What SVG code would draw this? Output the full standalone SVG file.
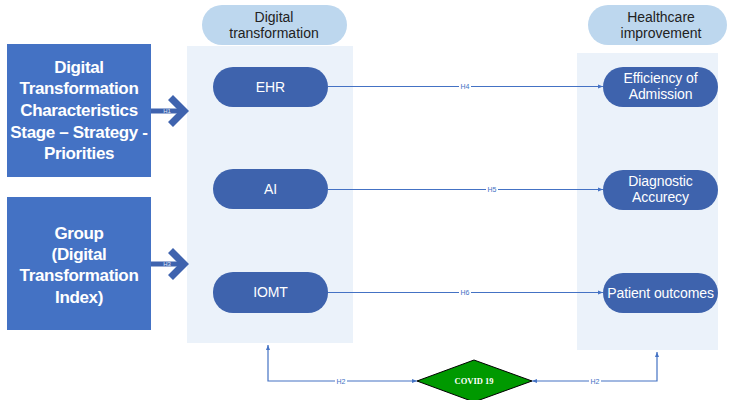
<svg xmlns="http://www.w3.org/2000/svg" width="731" height="400" viewBox="0 0 731 400">
<defs>
<style>
.box{fill:#4472C4}
.btxt{font-family:"Liberation Sans",Arial,sans-serif;font-weight:bold;font-size:17px;fill:#fff;text-anchor:middle;letter-spacing:-0.35px}
.panel{fill:#EBF2FA}
.pill{fill:#BDD7EE}
.htxt{font-family:"Liberation Sans",Arial,sans-serif;font-size:14px;fill:#222;text-anchor:middle}
.node{fill:#3E63AD}
.ntxt{font-family:"Liberation Sans",Arial,sans-serif;font-size:14px;fill:#fff;text-anchor:middle;letter-spacing:-0.1px}
.conn{stroke:#4472C4;stroke-width:1.2;fill:none}
.lbl{font-family:"Liberation Sans",Arial,sans-serif;font-size:7px;fill:#4472C4;text-anchor:middle}
.lblbg{fill:#fff}
.thick{fill:#3F63AE}
.tlbl{font-family:"Liberation Sans",Arial,sans-serif;font-size:6px;fill:#dfe7f5;text-anchor:middle}
</style>
<marker id="ah" viewBox="0 0 10 10" refX="10" refY="5" markerWidth="5" markerHeight="5" orient="auto-start-reverse" markerUnits="userSpaceOnUse">
<path d="M0,1 L10,5 L0,9 z" fill="#4472C4"/>
</marker>
</defs>

<g id="panel-digital">
<rect class="panel" x="187" y="46" width="166" height="297"/>
<rect class="pill" x="202" y="5" width="145" height="40" rx="20"/>
<text class="htxt" x="274" y="22">Digital</text>
<text class="htxt" x="274" y="38">transformation</text>
</g>

<g id="panel-health">
<rect class="panel" x="577" y="53" width="141" height="297"/>
<rect class="pill" x="588" y="5" width="139" height="40" rx="20"/>
<text class="htxt" x="661" y="22">Healthcare</text>
<text class="htxt" x="661" y="38">improvement</text>
</g>

<g id="box-characteristics">
<rect class="box" x="7" y="44" width="144" height="133"/>
<text class="btxt" x="79" y="73">Digital</text>
<text class="btxt" x="79" y="94">Transformation</text>
<text class="btxt" x="79" y="116">Characteristics</text>
<text class="btxt" x="79" y="138">Stage – Strategy -</text>
<text class="btxt" x="79" y="159">Priorities</text>
</g>

<g id="box-group">
<rect class="box" x="7" y="197" width="144" height="133"/>
<text class="btxt" x="79" y="239">Group</text>
<text class="btxt" x="79" y="260">(Digital</text>
<text class="btxt" x="79" y="281">Transformation</text>
<text class="btxt" x="79" y="303">Index)</text>
</g>

<g id="node-ehr">
<rect class="node" x="213" y="67" width="115" height="40" rx="20"/>
<text class="ntxt" x="270.5" y="92">EHR</text>
</g>
<g id="node-ai">
<rect class="node" x="213" y="169" width="115" height="40" rx="20"/>
<text class="ntxt" x="270.5" y="194">AI</text>
</g>
<g id="node-iomt">
<rect class="node" x="213" y="272" width="115" height="41" rx="20"/>
<text class="ntxt" x="270.5" y="297">IOMT</text>
</g>

<g id="node-efficiency">
<rect class="node" x="603" y="67" width="115" height="40" rx="20"/>
<text class="ntxt" x="660.5" y="83">Efficiency of</text>
<text class="ntxt" x="660.5" y="99">Admission</text>
</g>
<g id="node-diagnostic">
<rect class="node" x="603" y="170" width="115" height="40" rx="20"/>
<text class="ntxt" x="660.5" y="186">Diagnostic</text>
<text class="ntxt" x="660.5" y="202">Accurecy</text>
</g>
<g id="node-patient">
<rect class="node" x="603" y="273" width="115" height="40" rx="20"/>
<text class="ntxt" x="660.5" y="298">Patient outcomes</text>
</g>

<g id="node-covid">
<polygon points="417,381 474,360 532,381 474,402" fill="#009900" stroke="#000" stroke-width="1"/>
<text x="474" y="384" font-family="'Liberation Serif','Times New Roman',serif" font-weight="bold" font-size="8.5px" fill="#fff" text-anchor="middle">COVID 19</text>
</g>

<g id="connectors">
<rect class="thick" x="151" y="108.5" width="29" height="5"/>
<polygon class="thick" points="168,100 173,95 189,111 173,127 168,122 179,111"/>
<text class="tlbl" x="167" y="113">H1</text>
<rect class="thick" x="151" y="261.5" width="29" height="5"/>
<polygon class="thick" points="168,253 173,248 189,264 173,280 168,275 179,264"/>
<text class="tlbl" x="167" y="266">H3</text>

<line class="conn" x1="328" y1="86.5" x2="603" y2="86.5" marker-end="url(#ah)"/>
<rect class="lblbg" x="459" y="83" width="12" height="7"/>
<text class="lbl" x="465" y="89">H4</text>

<line class="conn" x1="328" y1="189.5" x2="603" y2="189.5" marker-end="url(#ah)"/>
<rect class="lblbg" x="486" y="186" width="12" height="7"/>
<text class="lbl" x="492" y="192">H5</text>

<line class="conn" x1="328" y1="292.5" x2="603" y2="292.5" marker-end="url(#ah)"/>
<rect class="lblbg" x="459" y="289" width="12" height="7"/>
<text class="lbl" x="465" y="295">H6</text>

<polyline class="conn" points="268,345 268,381 417,381" marker-start="url(#ah)" marker-end="url(#ah)"/>
<rect class="lblbg" x="335" y="378" width="12" height="7"/>
<text class="lbl" x="341" y="384">H2</text>

<polyline class="conn" points="657,352 657,381 532,381" marker-start="url(#ah)" marker-end="url(#ah)"/>
<rect class="lblbg" x="589" y="378" width="12" height="7"/>
<text class="lbl" x="595" y="384">H2</text>
</g>
</svg>
